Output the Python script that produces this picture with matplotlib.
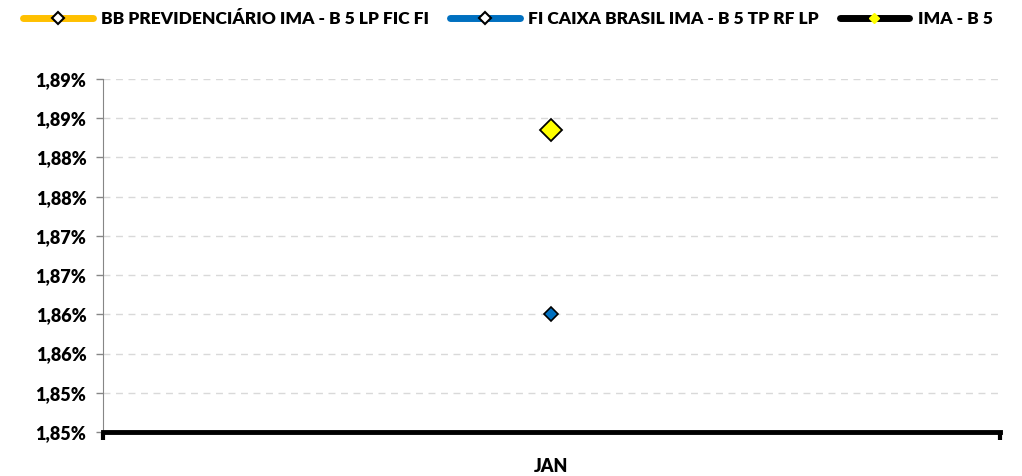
import matplotlib.pyplot as plt
from matplotlib.lines import Line2D

plt.rcParams['font.family'] = ['Lato', 'DejaVu Sans']
plt.rcParams['font.weight'] = 'heavy'

# data
months = ['JAN']
series_names = ['BB PREVIDENCIÁRIO IMA - B 5 LP FIC FI',
                'FI CAIXA BRASIL IMA - B 5 TP RF LP',
                'IMA - B 5']
bb_values = [0.018885]
caixa_values = [0.01865]
imab5_values = [0.018885]
line_colors = ['#FFC000', '#0070C0', '#000000']

y_ticks = [0.0185, 0.01855, 0.0186, 0.01865, 0.0187, 0.01875,
           0.0188, 0.01885, 0.0189, 0.01895]
y_labels = ['1,85%', '1,85%', '1,86%', '1,86%', '1,87%', '1,87%',
            '1,88%', '1,88%', '1,89%', '1,89%']

fig = plt.figure(figsize=(10.22, 4.76), dpi=100)
ax = fig.add_axes([0.1008, 0.0924, 0.8772, 0.7416])

x = list(range(len(months)))
ax.plot(x, bb_values, color=line_colors[0], lw=3, marker='D', ms=8,
        mfc='white', mec='black', mew=1.2, zorder=3)
ax.plot(x, caixa_values, color=line_colors[1], lw=3, marker='D', ms=7,
        mfc='#0070C0', mec='black', mew=1.2, zorder=3)
ax.plot(x, imab5_values, color=line_colors[2], lw=3, marker='D', ms=11,
        mfc='#FFFF00', mec='black', mew=1.3, zorder=4)

ax.set_xlim(-0.5, len(months) - 0.5)
ax.set_ylim(y_ticks[0], y_ticks[-1])
ax.set_yticks(y_ticks)
ax.set_yticklabels(y_labels, fontsize=13, fontweight='heavy')
ax.yaxis.grid(True, ls=(0, (5, 4)), color='#D9D9D9', lw=1)
ax.set_axisbelow(True)

# category boundaries as major ticks, labels in the middle
ax.set_xticks([-0.5, len(months) - 0.5])
ax.set_xticklabels(['', ''])
ax.set_xticks(x, minor=True)
ax.set_xticklabels(months, minor=True, fontsize=13, fontweight='heavy')
ax.tick_params(axis='x', which='major', length=6, width=3, color='black')
ax.tick_params(axis='x', which='minor', length=0, pad=19)
ax.tick_params(axis='y', length=5, width=1, color='#868686', pad=7)

for s in ['top', 'right']:
    ax.spines[s].set_visible(False)
ax.spines['left'].set_color('#868686')
ax.spines['bottom'].set_linewidth(3.5)
ax.spines['bottom'].set_color('black')

handles = [
    Line2D([], [], color=line_colors[0], lw=5, solid_capstyle='round',
           marker='D', ms=6, mfc='white', mec='black', mew=1.5),
    Line2D([], [], color=line_colors[1], lw=5, solid_capstyle='round',
           marker='D', ms=6, mfc='white', mec='black', mew=1.5),
    Line2D([], [], color=line_colors[2], lw=5, solid_capstyle='round',
           marker='D', ms=5, mfc='#FFFF00', mec='#FFFF00', mew=1),
]
fig.legend(handles, series_names, loc='upper center', ncol=3,
           bbox_to_anchor=(0.497, 1.01), frameon=False, handlelength=4.0,
           columnspacing=1.2, handletextpad=0.5,
           prop={'weight': 'heavy', 'size': 12.5})

fig.savefig('out.png', dpi=100)
